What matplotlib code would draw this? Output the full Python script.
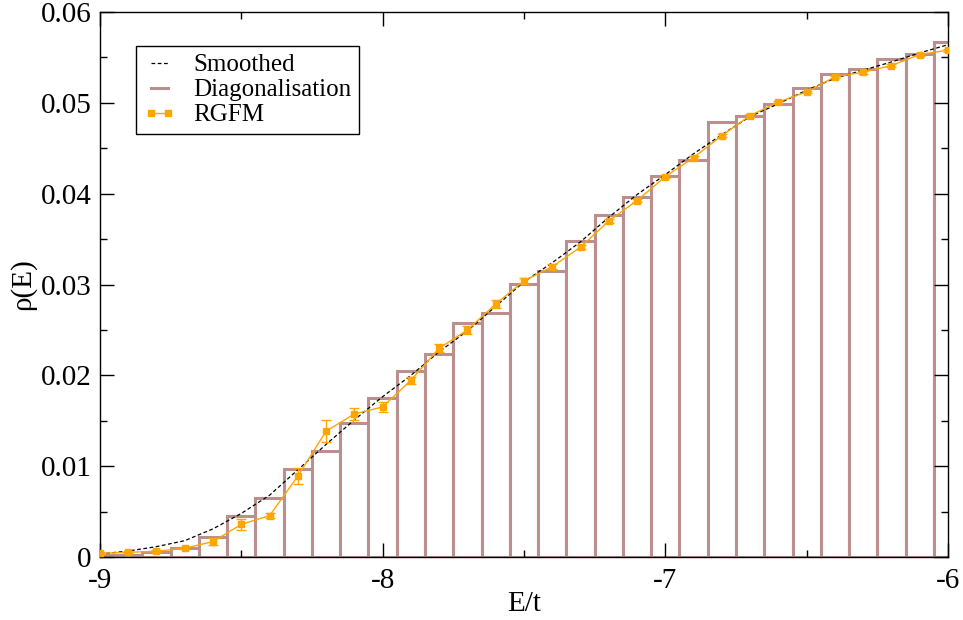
import matplotlib
matplotlib.use('Agg')
import matplotlib.pyplot as plt
from matplotlib.lines import Line2D
import numpy as np

plt.rcParams['font.family'] = ['Liberation Serif', 'DejaVu Serif']

# energy grid (bin centres / RGFM sample points)
energy = [-9.0, -8.9, -8.8, -8.7, -8.6, -8.5, -8.4, -8.3, -8.2, -8.1,
          -8.0, -7.9, -7.8, -7.7, -7.6, -7.5, -7.4, -7.3, -7.2, -7.1,
          -7.0, -6.9, -6.8, -6.7, -6.6, -6.5, -6.4, -6.3, -6.2, -6.1, -6.0]

# histogram from exact diagonalisation
diag = [0.0002, 0.00025, 0.00058, 0.00102, 0.00224, 0.00455, 0.00648, 0.00967, 0.01166, 0.01470,
        0.01755, 0.02045, 0.02236, 0.02580, 0.02684, 0.03003, 0.03152, 0.03477, 0.03767, 0.03968,
        0.04199, 0.04369, 0.04794, 0.04860, 0.04989, 0.05169, 0.05320, 0.05371, 0.05481, 0.05543, 0.05675]

# RGFM estimate with error bars
rgfm = [0.0004, 0.00052, 0.00063, 0.00097, 0.00170, 0.00360, 0.00455, 0.00890, 0.01386, 0.01575,
        0.01652, 0.01946, 0.02298, 0.02500, 0.02786, 0.03040, 0.03197, 0.03411, 0.03700, 0.03924,
        0.04188, 0.04398, 0.04640, 0.04860, 0.05010, 0.05121, 0.05286, 0.05338, 0.05411, 0.05532, 0.05580]
rgfm_err = [0.0001, 0.0001, 0.0001, 0.0001, 0.0004, 0.0006, 0.0003, 0.0009, 0.00125, 0.0007,
            0.0006, 0.0004, 0.00045, 0.0004, 0.00045, 0.0003, 0.00025, 0.0002, 0.0002, 0.00015,
            0.00015, 0.00015, 0.00015, 0.00015, 0.00015, 0.00015, 0.00015, 0.00015, 0.00015, 0.00015, 0.00015]

# smoothed density of states
smooth = [0.00033, 0.00066, 0.00114, 0.0018, 0.0031, 0.0048, 0.0068, 0.0096, 0.0124, 0.0151,
          0.01765, 0.0200, 0.0226, 0.0249, 0.0276, 0.0303, 0.0324, 0.0347, 0.0374, 0.0399,
          0.0421, 0.0444, 0.0465, 0.0485, 0.0499, 0.0514, 0.0527, 0.0536, 0.0545, 0.0555, 0.0564]

bar_col = '#bc8f8f'
orange = '#ffa500'

fig = plt.figure(figsize=(9.63, 6.2), dpi=100)
ax = fig.add_axes([0.1038, 0.1016, 0.8806, 0.879])

ax.bar(energy, diag, width=0.1, align='center', facecolor='white',
       edgecolor=bar_col, linewidth=2.2, zorder=1)
ax.plot(energy, smooth, color='black', linestyle=(0, (3, 2)), linewidth=0.9, zorder=3)
ax.errorbar(energy, rgfm, yerr=rgfm_err, color=orange, linewidth=1.0,
            marker='s', markersize=4.5, capsize=3.5, elinewidth=1.0, zorder=4)

ax.set_xlim(-9, -6)
ax.set_ylim(0, 0.06)
ax.set_xticks([-9, -8, -7, -6])
ax.set_xticklabels(['-9', '-8', '-7', '-6'])
ax.set_xticks([-8.5, -7.5, -6.5], minor=True)
ax.set_yticks([0, 0.01, 0.02, 0.03, 0.04, 0.05, 0.06])
ax.set_yticklabels(['0', '0.01', '0.02', '0.03', '0.04', '0.05', '0.06'])
ax.set_yticks(np.arange(0.005, 0.06, 0.01), minor=True)
ax.tick_params(which='both', direction='in', top=True, right=True, labelsize=21, width=1.0)
ax.tick_params(which='major', length=10)
ax.tick_params(which='minor', length=5)
ax.tick_params(axis='x', pad=8)
ax.tick_params(axis='y', pad=6)
for s in ax.spines.values():
    s.set_linewidth(1.0)

ax.set_xlabel('E/t', fontsize=21, labelpad=-2)
ax.set_ylabel('ρ(E)', fontsize=21, labelpad=3)

handles = [Line2D([], [], color='black', linestyle=(0, (3, 2)), linewidth=0.9),
           Line2D([], [], color=bar_col, linewidth=2.2),
           Line2D([], [], color=orange, linewidth=1.0, marker='s', markersize=4.5)]
leg = ax.legend(handles, ['Smoothed', 'Diagonalisation', 'RGFM'],
                loc='upper left', bbox_to_anchor=(0.042, 0.937), fontsize=18,
                frameon=True, fancybox=False, framealpha=1, edgecolor='black',
                handlelength=1.3, handletextpad=0.7, borderpad=0.3,
                labelspacing=0.1, numpoints=2, borderaxespad=0)
leg.get_frame().set_linewidth(1.0)

fig.savefig('out.png', dpi=100)
